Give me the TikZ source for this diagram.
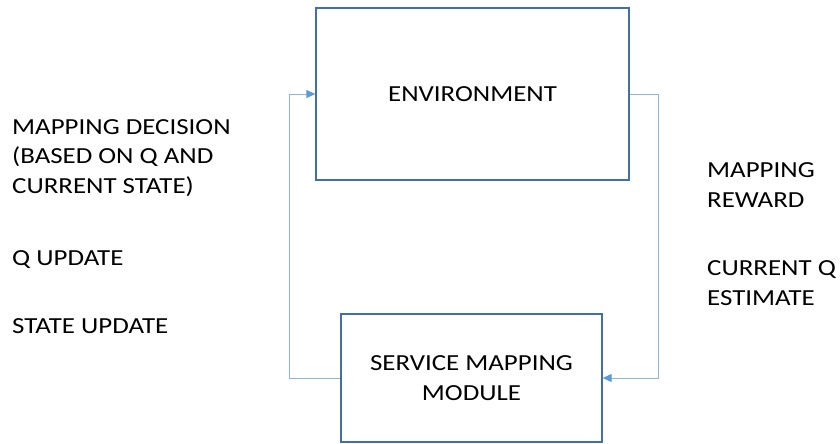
\documentclass[tikz,border=0pt]{standalone}
\usepackage{fontspec}
\setmainfont{Carlito}[FakeStretch=1.17]
\usetikzlibrary{arrows.meta, positioning}
\definecolor{boxblue}{HTML}{41719C}
\definecolor{linkblue}{HTML}{8EB4E3}
\definecolor{tipblue}{HTML}{5B9BD5}
\tikzset{
    box/.style = {draw=boxblue, line width=1.3pt, rectangle, align=center, inner sep=0pt},
    lbl/.style = {align=left, anchor=west, inner sep=0pt},
    link/.style = {draw=linkblue, line width=0.9pt, -{Triangle[length=9pt, width=8pt, color=tipblue, fill=tipblue]}}
}

\begin{document}
\begin{tikzpicture}[x=1pt, y=-1pt, font=\fontsize{23}{29.5}\selectfont]
    \useasboundingbox (0,0) rectangle (840,444);
    \node (env) [box, minimum width=313pt, minimum height=172pt] at (472.5,94) {ENVIRONMENT};
    \node (svc) [box, minimum width=261pt, minimum height=128pt] at (471.5,378) {SERVICE MAPPING\\MODULE};

    \coordinate (lturn) at (289,378);
    \coordinate (rturn) at (658,94);
    \draw[link] (svc.west) -- (lturn) |- (env.west);
    \draw[link] (env.east) -- (rturn) |- (svc.east);

    \node (decision) [lbl] at (12,158) {MAPPING DECISION\\(BASED ON Q AND\\CURRENT STATE)};
    \node (qupd) [lbl] at (12,260) {Q UPDATE};
    \node (stupd) [lbl] at (12,326) {STATE UPDATE};
    \node (reward) [lbl] at (707,185) {MAPPING\\REWARD};
    \node (qest) [lbl] at (707,283) {CURRENT Q\\ESTIMATE};
\end{tikzpicture}
\end{document}
